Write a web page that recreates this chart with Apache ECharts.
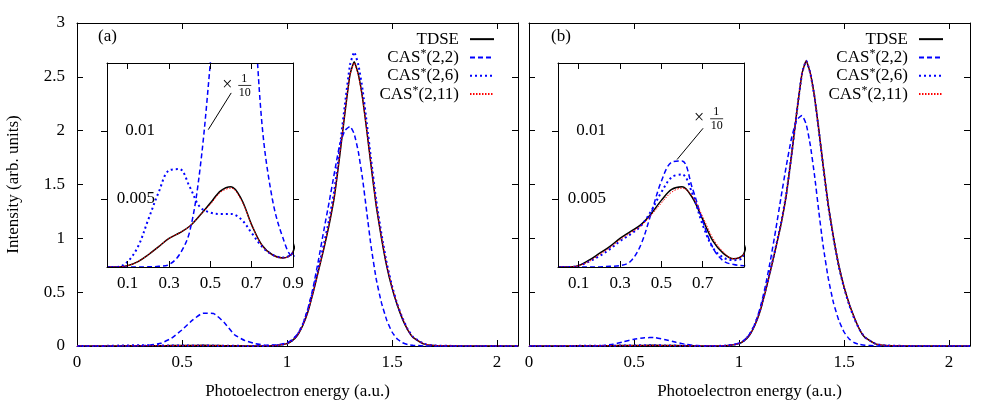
<!DOCTYPE html>
<html>
<head>
<meta charset="utf-8">
<script src="https://cdn.jsdelivr.net/npm/echarts@6/dist/echarts.min.js"></script>
<style>
  html, body { margin: 0; padding: 0; background: #fff; }
  #main { width: 981px; height: 405px; }
</style>
</head>
<body>
<div id="main"></div>
<script>
// photoelectron energy grid (a.u.), shared by every curve
var energy = [0, 0.05, 0.1, 0.15, 0.2, 0.25, 0.3, 0.35, 0.4, 0.45, 0.5, 0.55, 0.6, 0.65, 0.7, 0.75, 0.8, 0.85, 0.9,
  0.95, 1.0, 1.025, 1.05, 1.075, 1.1, 1.125, 1.15, 1.175, 1.2,
  1.225, 1.25, 1.275, 1.3, 1.32, 1.34, 1.36, 1.38, 1.4, 1.425,
  1.45, 1.475, 1.5, 1.525, 1.55, 1.575, 1.6, 1.65, 1.7, 1.8,
  1.9, 2.0, 2.1];

// panel (a)
var tdseA = [0, 0, 0.0001, 0.0004, 0.0009, 0.0015, 0.0021, 0.0025, 0.003, 0.0038, 0.0047, 0.0056, 0.0059, 0.005, 0.0031, 0.0016, 0.0009, 0.00066, 0.0011,
  0.005, 0.022, 0.05, 0.1, 0.19, 0.32, 0.5, 0.7, 0.9, 1.12,
  1.38, 1.75, 2.15, 2.52, 2.64, 2.52, 2.3, 2.0, 1.68, 1.3,
  1.0, 0.74, 0.54, 0.38, 0.25, 0.15, 0.08, 0.02, 0.005, 0.0005,
  0, 0, 0];
var cas22A = [0, 0, 0, 0, 0.0001, 0.0005, 0.0018, 0.009, 0.026, 0.072, 0.15, 0.24, 0.305, 0.302, 0.22, 0.105, 0.05, 0.022, 0.008,
  0.01, 0.03, 0.06, 0.11, 0.2, 0.35, 0.55, 0.8, 1.07, 1.33,
  1.6, 1.86, 2.0, 2.04, 1.97, 1.8, 1.55, 1.24, 0.93, 0.62,
  0.4, 0.24, 0.13, 0.065, 0.03, 0.014, 0.007, 0.001, 0, 0,
  0, 0, 0];
var cas26A = [0, 0, 0.0004, 0.0015, 0.0035, 0.0055, 0.0071, 0.0072, 0.0059, 0.0044, 0.004, 0.0039, 0.0039, 0.0035, 0.0025, 0.0015, 0.0009, 0.0007, 0.0011,
  0.005, 0.023, 0.052, 0.105, 0.2, 0.34, 0.52, 0.73, 0.94, 1.17,
  1.44, 1.82, 2.23, 2.61, 2.73, 2.61, 2.38, 2.07, 1.74, 1.35,
  1.04, 0.77, 0.56, 0.39, 0.26, 0.155, 0.085, 0.022, 0.005, 0.0005,
  0, 0, 0];
var cas211A = [0, 0, 0.0001, 0.0004, 0.0009, 0.0015, 0.0021, 0.0025, 0.003, 0.0038, 0.0046, 0.0055, 0.0058, 0.0049, 0.0031, 0.0016, 0.0009, 0.00066, 0.0011,
  0.005, 0.022, 0.05, 0.1, 0.19, 0.32, 0.5, 0.7, 0.91, 1.13,
  1.39, 1.76, 2.16, 2.52, 2.63, 2.51, 2.3, 2.0, 1.69, 1.31,
  1.01, 0.75, 0.55, 0.39, 0.26, 0.15, 0.08, 0.021, 0.005, 0.0005,
  0, 0, 0];

// panel (b)
var tdseB = [0, 0, 0.0001, 0.0005, 0.001, 0.0015, 0.0021, 0.0026, 0.0031, 0.0039, 0.0049, 0.0057, 0.0059, 0.0051, 0.0035, 0.0019, 0.001, 0.0006, 0.001,
  0.005, 0.022, 0.05, 0.1, 0.19, 0.32, 0.5, 0.7, 0.91, 1.13,
  1.4, 1.77, 2.17, 2.53, 2.65, 2.53, 2.31, 2.01, 1.69, 1.31,
  1.01, 0.75, 0.55, 0.39, 0.26, 0.15, 0.08, 0.02, 0.005, 0.0005,
  0, 0, 0];
var cas22B = [0, 0, 0, 0, 0, 0.0005, 0.001, 0.004, 0.016, 0.039, 0.063, 0.077, 0.078, 0.058, 0.034, 0.014, 0.0045, 0.0018, 0.001,
  0.005, 0.025, 0.055, 0.11, 0.2, 0.35, 0.55, 0.8, 1.08, 1.38,
  1.67, 1.93, 2.1, 2.14, 2.06, 1.86, 1.58, 1.25, 0.94, 0.63,
  0.4, 0.24, 0.13, 0.065, 0.03, 0.014, 0.007, 0.001, 0, 0,
  0, 0, 0];
var cas26B = [0, 0, 0.0001, 0.0004, 0.0008, 0.0013, 0.0019, 0.0024, 0.003, 0.0041, 0.0055, 0.0066, 0.0068, 0.0054, 0.0031, 0.0014, 0.0007, 0.0005, 0.0008,
  0.005, 0.023, 0.052, 0.105, 0.2, 0.33, 0.51, 0.71, 0.92, 1.14,
  1.41, 1.77, 2.17, 2.53, 2.65, 2.53, 2.31, 2.0, 1.68, 1.3,
  1.0, 0.74, 0.54, 0.38, 0.25, 0.15, 0.08, 0.02, 0.005, 0.0005,
  0, 0, 0];
var cas211B = [0, 0, 0.0001, 0.0004, 0.0009, 0.0014, 0.002, 0.0025, 0.003, 0.0038, 0.0047, 0.0055, 0.0058, 0.0052, 0.0037, 0.0021, 0.0011, 0.0006, 0.001,
  0.005, 0.022, 0.05, 0.1, 0.19, 0.32, 0.5, 0.7, 0.91, 1.13,
  1.4, 1.77, 2.17, 2.53, 2.65, 2.53, 2.31, 2.01, 1.69, 1.31,
  1.01, 0.75, 0.55, 0.39, 0.26, 0.15, 0.08, 0.02, 0.005, 0.0005,
  0, 0, 0];

var names = ["TDSE", "CAS*(2,2)", "CAS*(2,6)", "CAS*(2,11)"];
var mainXTicks = [0, 0.5, 1, 1.5, 2];
var mainYTicks = [0, 0.5, 1, 1.5, 2, 2.5, 3];
var insetXTicks = [0.1, 0.3, 0.5, 0.7, 0.9];
var insetXLabelsA = [0.1, 0.3, 0.5, 0.7, 0.9];
var insetXLabelsB = [0.1, 0.3, 0.5, 0.7];
var insetYTicks = [0.005, 0.01];

var FONT = '"Liberation Serif", "Times New Roman", serif';
var styles = {
  "TDSE": { color: "#000000", width: 1.5, type: "solid" },
  "CAS*(2,2)": { color: "#0000ff", width: 1.5, type: [5, 3] },
  "CAS*(2,6)": { color: "#0000ff", width: 2, type: [2, 3] },
  "CAS*(2,11)": { color: "#ff0000", width: 1, type: [1.5, 1.5] }
};

var myChart = echarts.init(document.getElementById("main"));

function pairs(arr, scale, upTo) {
  var out = [];
  energy.forEach(function (e, i) {
    if (upTo === undefined || e <= upTo) out.push([e, arr[i] * scale]);
  });
  return out;
}

function xAx(grid, pos, max, ticks, labels, z, name) {
  var a = {
    type: "value", gridIndex: grid, position: pos, min: 0, max: max, z: z,
    axisLine: { show: true, onZero: false, lineStyle: { color: "#000", width: 1 } },
    axisTick: { show: true, inside: true, length: 6, customValues: ticks, lineStyle: { color: "#000" } },
    axisLabel: { show: !!labels, customValues: labels || [], margin: 8, color: "#000", fontFamily: FONT, fontSize: 17 },
    splitLine: { show: false }
  };
  if (name) {
    a.name = name; a.nameLocation = "middle"; a.nameGap = 37;
    a.nameTextStyle = { fontFamily: FONT, fontSize: 17, color: "#000" };
  }
  return a;
}

function yAx(grid, pos, max, ticks, labels, z, tickInside, labelOpts) {
  var a = {
    type: "value", gridIndex: grid, position: pos, min: 0, max: max, z: z,
    axisLine: { show: true, onZero: false, lineStyle: { color: "#000", width: 1 } },
    axisTick: { show: true, inside: tickInside, length: 6, customValues: ticks, lineStyle: { color: "#000" } },
    axisLabel: Object.assign({ show: !!labels, customValues: labels || [], margin: 12, color: "#000", fontFamily: FONT, fontSize: 17 }, labelOpts || {}),
    splitLine: { show: false }
  };
  return a;
}

var mainYA = yAx(0, "left", 3, mainYTicks, mainYTicks, 0, true);
mainYA.name = "Intensity (arb. units)";
mainYA.nameLocation = "middle";
mainYA.nameGap = 55;
mainYA.nameTextStyle = { fontFamily: FONT, fontSize: 17, color: "#000" };

var insetLabel = { inside: true, align: "right", margin: 48 };

var xAxes = [
  xAx(0, "bottom", 2.1, mainXTicks, mainXTicks, 0, "Photoelectron energy (a.u.)"),
  xAx(0, "top", 2.1, mainXTicks, null, 0),
  xAx(1, "bottom", 2.1, mainXTicks, mainXTicks, 0, "Photoelectron energy (a.u.)"),
  xAx(1, "top", 2.1, mainXTicks, null, 0),
  xAx(2, "bottom", 0.9, insetXTicks, insetXLabelsA, 6),
  xAx(2, "top", 0.9, insetXTicks, null, 6),
  xAx(3, "bottom", 0.9, insetXTicks, insetXLabelsB, 6),
  xAx(3, "top", 0.9, insetXTicks, null, 6)
];
var yAxes = [
  mainYA,
  yAx(0, "right", 3, mainYTicks, null, 0, true),
  yAx(1, "left", 3, mainYTicks, null, 0, true),
  yAx(1, "right", 3, mainYTicks, null, 0, true),
  yAx(2, "left", 0.015, insetYTicks, insetYTicks, 6, false, insetLabel),
  yAx(2, "right", 0.015, insetYTicks, null, 6, false),
  yAx(3, "left", 0.015, insetYTicks, insetYTicks, 6, false, insetLabel),
  yAx(3, "right", 0.015, insetYTicks, null, 6, false)
];

var series = [];
function addSet(list, axis, z, inset) {
  list.forEach(function (d, k) {
    var st = styles[names[k]];
    var scale = (inset && names[k] === "CAS*(2,2)") ? 0.1 : 1; // inset shows CAS*(2,2) x 1/10
    series.push({
      type: "line", name: names[k], xAxisIndex: axis, yAxisIndex: axis, z: z + k * 0.01,
      data: pairs(d, scale, inset ? 1.0 : undefined),
      showSymbol: false, symbol: "none", smooth: inset ? 0.35 : 0.15, clip: true,
      itemStyle: { color: st.color },
      lineStyle: { color: st.color, width: st.width, type: st.type },
      emphasis: { disabled: true }
    });
  });
}
addSet([tdseA, cas22A, cas26A, cas211A], 0, 2, false);
addSet([tdseB, cas22B, cas26B, cas211B], 2, 2, false);
addSet([tdseA, cas22A, cas26A, cas211A], 4, 5, true);
addSet([tdseB, cas22B, cas26B, cas211B], 6, 5, true);

function legendAt(right) {
  return {
    data: names, orient: "vertical", right: right, top: 25, align: "right",
    itemWidth: 24, itemHeight: 10, itemGap: 0, selectedMode: false,
    itemStyle: { opacity: 0 },
    formatter: function (n) { return n.replace("*", "{sup|*}"); },
    textStyle: {
      fontFamily: FONT, fontSize: 17, color: "#000", lineHeight: 18.3, padding: [0, 6, 0, 0],
      rich: { sup: { fontFamily: FONT, fontSize: 12, color: "#000", verticalAlign: "top", lineHeight: 18.3 } }
    }
  };
}

var option = {
  animation: false,
  backgroundColor: "#fff",
  grid: [
    { left: 77, top: 23, width: 441, height: 323 },
    { left: 529, top: 23, width: 441, height: 323 },
    { left: 107, top: 63, width: 186, height: 204, show: true, backgroundColor: "#fff", borderWidth: 0, z: 4 },
    { left: 558, top: 63, width: 186, height: 204, show: true, backgroundColor: "#fff", borderWidth: 0, z: 4 }
  ],
  xAxis: xAxes,
  yAxis: yAxes,
  legend: [legendAt(481), legendAt(32)],
  series: series
};
myChart.setOption(option);

// panel labels and the "x 1/10" notes in the insets
var notes = [
  { axis: 4, at: [0.582, 0.01335], from: [0.601, 0.0128], to: [0.49, 0.0101] },
  { axis: 6, at: [0.683, 0.0109], from: [0.702, 0.0102], to: [0.576, 0.0079] }
];
var graphics = [
  { type: "text", left: 98, top: 28, z: 10, style: { text: "(a)", font: '17px ' + FONT, fill: "#000" } },
  { type: "text", left: 551, top: 28, z: 10, style: { text: "(b)", font: '17px ' + FONT, fill: "#000" } }
];
notes.forEach(function (n) {
  var f = { xAxisIndex: n.axis, yAxisIndex: n.axis };
  var p = myChart.convertToPixel(f, n.at);
  var a = myChart.convertToPixel(f, n.from);
  var b = myChart.convertToPixel(f, n.to);
  graphics.push(
    { type: "text", x: p[0], y: p[1], z: 10, style: { text: "\u00d7", font: '18px ' + FONT, fill: "#000", align: "center", verticalAlign: "middle" } },
    { type: "text", x: p[0] + 17, y: p[1] - 6.5, z: 10, style: { text: "1", font: '12px ' + FONT, fill: "#000", align: "center", verticalAlign: "middle" } },
    { type: "line", z: 10, shape: { x1: p[0] + 11, y1: p[1], x2: p[0] + 24, y2: p[1] }, style: { stroke: "#000", lineWidth: 0.8 } },
    { type: "text", x: p[0] + 17.5, y: p[1] + 7, z: 10, style: { text: "10", font: '12px ' + FONT, fill: "#000", align: "center", verticalAlign: "middle" } },
    { type: "line", z: 10, shape: { x1: a[0], y1: a[1], x2: b[0], y2: b[1] }, style: { stroke: "#000", lineWidth: 1 } }
  );
});
myChart.setOption({ graphic: graphics });
</script>
</body>
</html>
